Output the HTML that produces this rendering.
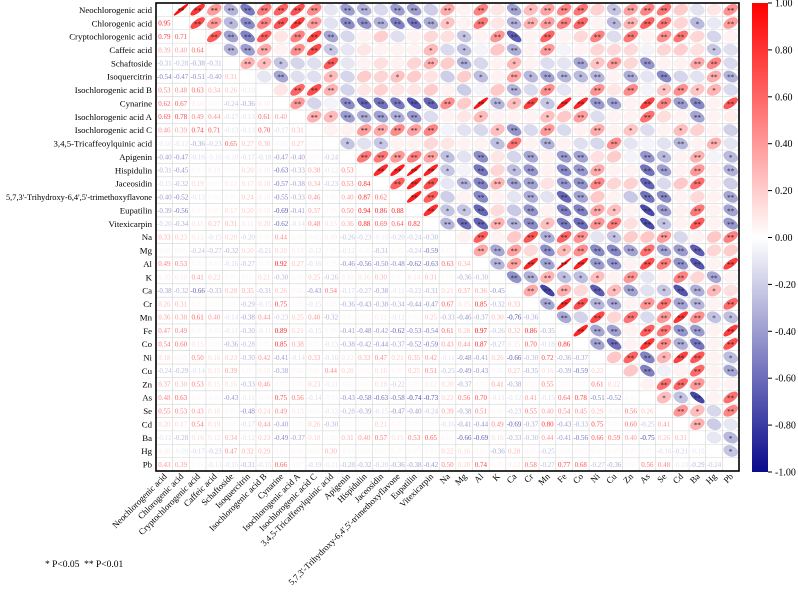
<!DOCTYPE html>
<html><head><meta charset="utf-8"><style>
html,body{margin:0;padding:0;background:#fff;}
svg{display:block;font-family:"Liberation Serif",serif;}
</style></head><body>
<svg id="chart" width="798" height="595" viewBox="0 0 798 595" xmlns="http://www.w3.org/2000/svg">
<defs>
<linearGradient id="cbar" x1="0" y1="0" x2="0" y2="1">
<stop offset="0" stop-color="#ff0000"/><stop offset="0.5" stop-color="#ffffff"/><stop offset="1" stop-color="#0a0a8c"/>
</linearGradient>
</defs>
<g id="cells"></g>
<g id="labels"></g>
<rect x="156" y="3" width="583" height="468" fill="none" stroke="#000" stroke-width="1.6"/>
<rect x="752" y="3" width="16" height="469" fill="url(#cbar)"/>
<g id="cbticks"></g>
<text x="45" y="567" font-size="9.5" xml:space="preserve">* P&lt;0.05  ** P&lt;0.01</text>
</svg>
<script>
const variables = ["Neochlorogenic acid","Chlorogenic acid","Cryptochlorogenic acid","Caffeic acid","Schaftoside","Isoquercitrin","Isochlorogenic acid B","Cynarine","Isochlorogenic acid A","Isochlorogenic acid C","3,4,5-Tricaffeoylquinic acid","Apigenin","Hispidulin","Jaceosidin","5,7,3'-Trihydroxy-6,4',5'-trimethoxyflavone","Eupatilin","Vitexicarpin","Na","Mg","Al","K","Ca","Cr","Mn","Fe","Co","Ni","Cu","Zn","As","Se","Cd","Ba","Hg","Pb"];
const lowerRows = [
[],
[0.95],
[0.79,0.71],
[0.39,0.40,0.64],
[-0.31,-0.28,-0.38,-0.31],
[-0.54,-0.47,-0.51,-0.40,0.31],
[0.53,0.48,0.63,0.34,0.26,-0.10],
[0.62,0.67,0.10,0.05,-0.24,-0.36,0.10],
[0.69,0.78,0.49,0.44,-0.17,-0.13,0.61,0.40],
[0.46,0.39,0.74,0.71,-0.13,-0.13,0.70,-0.17,0.31],
[-0.10,-0.12,-0.36,-0.23,0.65,0.27,0.30,-0.05,0.27,0.05],
[-0.40,-0.47,-0.16,-0.10,-0.10,-0.17,-0.18,-0.47,-0.40,0.05,-0.24],
[-0.31,-0.45,0.05,0.10,0.05,0.20,0.10,-0.63,-0.33,0.38,-0.12,0.53],
[-0.15,-0.32,0.19,0.05,0.12,0.17,0.18,-0.57,-0.38,0.34,-0.23,0.53,0.84],
[-0.40,-0.52,-0.13,0.05,0.05,0.24,0.10,-0.55,-0.33,0.46,0.05,0.40,0.87,0.62],
[-0.39,-0.56,0.05,0.05,0.17,0.20,0.10,-0.69,-0.41,0.37,0.05,0.50,0.94,0.86,0.88],
[-0.20,-0.34,0.15,0.27,0.31,0.11,0.20,-0.62,-0.14,0.48,0.15,0.36,0.88,0.69,0.64,0.82],
[0.33,0.23,0.12,-0.15,0.20,-0.20,0.05,0.44,0.05,-0.05,0.10,-0.26,-0.23,-0.10,-0.20,-0.24,-0.30],
[0.05,0.05,-0.24,-0.27,-0.32,0.20,-0.21,0.20,0.10,-0.12,0.05,-0.12,-0.05,-0.31,0.05,-0.24,-0.59,0.05],
[0.49,0.53,0.05,-0.05,-0.16,-0.27,-0.05,0.92,0.27,-0.16,0.05,-0.46,-0.56,-0.50,-0.48,-0.62,-0.63,0.63,0.34],
[0.10,0.10,0.41,0.22,0.05,0.05,0.21,-0.30,0.05,0.25,-0.26,0.10,0.16,0.30,0.05,0.14,0.31,0.05,-0.36,-0.30],
[-0.38,-0.32,-0.66,-0.33,0.28,0.35,-0.31,0.26,0.05,-0.43,0.54,-0.17,-0.27,-0.38,-0.11,-0.22,-0.31,0.21,0.37,0.36,-0.45],
[0.26,0.31,0.05,0.05,0.05,-0.29,-0.15,0.75,0.05,-0.15,0.05,-0.36,-0.43,-0.38,-0.34,-0.44,-0.47,0.67,0.15,0.85,-0.32,0.33],
[0.36,0.38,0.61,0.40,-0.14,-0.38,0.44,-0.23,0.25,0.40,-0.32,0.05,0.05,0.11,-0.12,0.05,0.25,-0.33,-0.46,-0.37,0.30,-0.76,-0.36],
[0.47,0.49,0.05,-0.05,-0.11,-0.30,-0.11,0.89,0.21,-0.15,0.05,-0.41,-0.48,-0.42,-0.62,-0.53,-0.54,0.61,0.28,0.97,-0.26,0.32,0.86,-0.35],
[0.54,0.60,0.15,0.05,-0.36,-0.28,0.05,0.85,0.38,0.05,-0.13,-0.38,-0.42,-0.44,-0.37,-0.52,-0.59,0.43,0.44,0.87,-0.27,0.15,0.70,-0.18,0.86],
[0.18,0.05,0.50,0.16,0.23,-0.30,0.42,-0.41,-0.14,0.33,-0.16,0.12,0.33,0.47,0.21,0.35,0.42,-0.11,-0.48,-0.41,0.26,-0.66,-0.30,0.72,-0.36,-0.37],
[-0.24,-0.29,-0.14,0.15,0.39,0.05,0.10,-0.38,0.05,0.05,0.44,0.20,0.05,0.16,0.05,0.25,0.51,-0.25,-0.49,-0.43,0.05,0.27,-0.35,0.16,-0.39,-0.59,0.22],
[0.37,0.30,0.53,0.15,0.16,-0.33,0.46,0.05,0.05,0.23,-0.11,-0.05,0.05,0.18,-0.22,0.05,0.12,0.20,-0.37,0.05,0.41,-0.38,0.05,0.55,0.05,0.05,0.61,0.22],
[0.48,0.63,0.05,-0.05,-0.43,-0.11,-0.05,0.75,0.56,-0.14,-0.05,-0.43,-0.58,-0.63,-0.58,-0.74,-0.73,0.22,0.56,0.70,-0.11,-0.12,0.41,-0.15,0.64,0.78,-0.51,-0.52,0.05],
[0.55,0.53,0.43,0.16,0.05,-0.48,0.24,0.49,0.13,0.05,-0.12,-0.28,-0.39,-0.15,-0.47,-0.40,-0.24,0.39,-0.38,0.51,0.05,-0.23,0.55,0.40,0.54,0.45,0.29,-0.06,0.56,0.26],
[0.20,0.17,0.54,0.19,0.05,-0.17,0.44,-0.40,0.05,0.26,-0.30,0.05,0.05,0.21,0.05,0.05,0.05,-0.16,-0.41,-0.44,0.49,-0.69,-0.37,0.80,-0.43,-0.33,0.75,0.05,0.60,-0.25,0.41],
[-0.12,-0.28,0.16,0.12,0.34,-0.12,0.23,-0.49,-0.37,0.18,0.05,0.31,0.40,0.57,0.15,0.53,0.65,0.05,-0.66,-0.69,0.16,-0.33,-0.30,0.44,-0.41,-0.56,0.66,0.59,0.40,-0.75,0.26,0.31],
[0.10,-0.09,-0.17,-0.23,0.47,0.32,0.29,0.05,0.05,0.05,0.30,-0.05,0.05,0.05,0.05,0.05,0.05,0.22,0.16,0.05,-0.36,0.28,0.05,-0.25,0.05,0.05,0.05,0.05,0.05,0.05,-0.16,-0.21,-0.10],
[0.43,0.39,0.05,-0.13,-0.15,-0.31,-0.15,0.66,0.07,-0.19,-0.11,-0.28,-0.32,-0.20,-0.36,-0.38,-0.42,0.50,0.20,0.74,0.05,0.12,0.58,-0.27,0.77,0.68,-0.27,-0.36,0.05,0.56,0.48,-0.10,-0.29,-0.24]
];
const colorbarTicks = [1.00,0.80,0.60,0.40,0.20,0.00,-0.20,-0.40,-0.60,-0.80,-1.00];

const NS="http://www.w3.org/2000/svg";
const X0=156, Y0=3, CW=583/35, CH=468/35;
const xPos = i => X0 + i*CW;
const yPos = i => Y0 + i*CH;
const cbY = v => 3 + (1 - v)/2*469;
function corr(i,j){ if(i===j) return 1; return i>j ? lowerRows[i][j] : lowerRows[j][i]; }
function col(r){
  const t=Math.min(1,Math.abs(r));
  let c;
  if(r>=0) c=[255,255-255*t,255-255*t];
  else c=[255-245*t,255-245*t,255-115*t];
  return 'rgb('+c.map(Math.round).join(',')+')';
}
function mk(tag,attrs,parent){const e=document.createElementNS(NS,tag);for(const k in attrs)e.setAttribute(k,attrs[k]);parent.appendChild(e);return e;}
const cells=document.getElementById('cells');
const labels=document.getElementById('labels');
const n=variables.length;
for(let k=1;k<n;k++){
  const v=mk('line',{x1:xPos(k),x2:xPos(k),y1:Y0,y2:Y0+468,stroke:'#d4d4d4','stroke-width':0.6},cells);
  
  
  const h=mk('line',{x1:X0,x2:X0+583,y1:yPos(k),y2:yPos(k),stroke:'#d4d4d4','stroke-width':0.6},cells);
  
  
}
for(let i=0;i<n;i++){
  for(let j=0;j<n;j++){
    if(i===j) continue;
    const r=corr(i,j);
    const cx=xPos(j)+CW/2, cy=yPos(i)+CH/2;
    if(j>i){
      const s=0.42, a=s*Math.sqrt(1+Math.abs(r)), b=s*Math.sqrt(Math.max(0.0,1-Math.abs(r)));
      const e=mk('ellipse',{cx:0,cy:0,rx:a,ry:Math.max(b,0.05),fill:col(r),stroke:col(r*1.1),'stroke-width':0.5,'vector-effect':'non-scaling-stroke',
        transform:`translate(${cx},${cy}) scale(${CW},${CH}) rotate(${r>=0?-45:45})`},cells);
      
      
      const ar=Math.abs(r);
      if(ar>=0.23){
        const st=mk('text',{x:cx,y:cy+3.2,'font-size':7,'text-anchor':'middle',fill:'#222'},cells);
        st.textContent = ar>=0.30 ? '**' : '*';
        
        
      }
    } else {
      const t=mk('text',{x:cx,y:cy+2.5,'font-size':7,'text-anchor':'middle',fill:col(r)},cells);
      t.textContent=r.toFixed(2);
      
      
    }
  }
  const rl=mk('text',{x:152,y:yPos(i)+CH/2+3.2,'font-size':8.8,'text-anchor':'end',fill:'#000'},labels);
  rl.textContent=variables[i];
  if(variables[i].length>35){ rl.setAttribute('textLength','146'); rl.setAttribute('lengthAdjust','spacingAndGlyphs'); }
  
  
  const xl=mk('text',{x:0,y:0,'font-size':8.8,'text-anchor':'end',fill:'#000',transform:`translate(${xPos(i)+CW/2+3},${477}) rotate(-45)`},labels);
  xl.textContent=variables[i];
  
  
}
const cbt=document.getElementById('cbticks');
colorbarTicks.forEach(v=>{
  const y=cbY(v);
  const l=mk('line',{x1:768,x2:772,y1:y,y2:y,stroke:'#000','stroke-width':1},cbt);
  
  
  const t=mk('text',{x:775,y:y+3.5,'font-size':10,fill:'#000'},cbt);
  t.textContent=v.toFixed(2);
  
  
});
</script>
</body></html>
